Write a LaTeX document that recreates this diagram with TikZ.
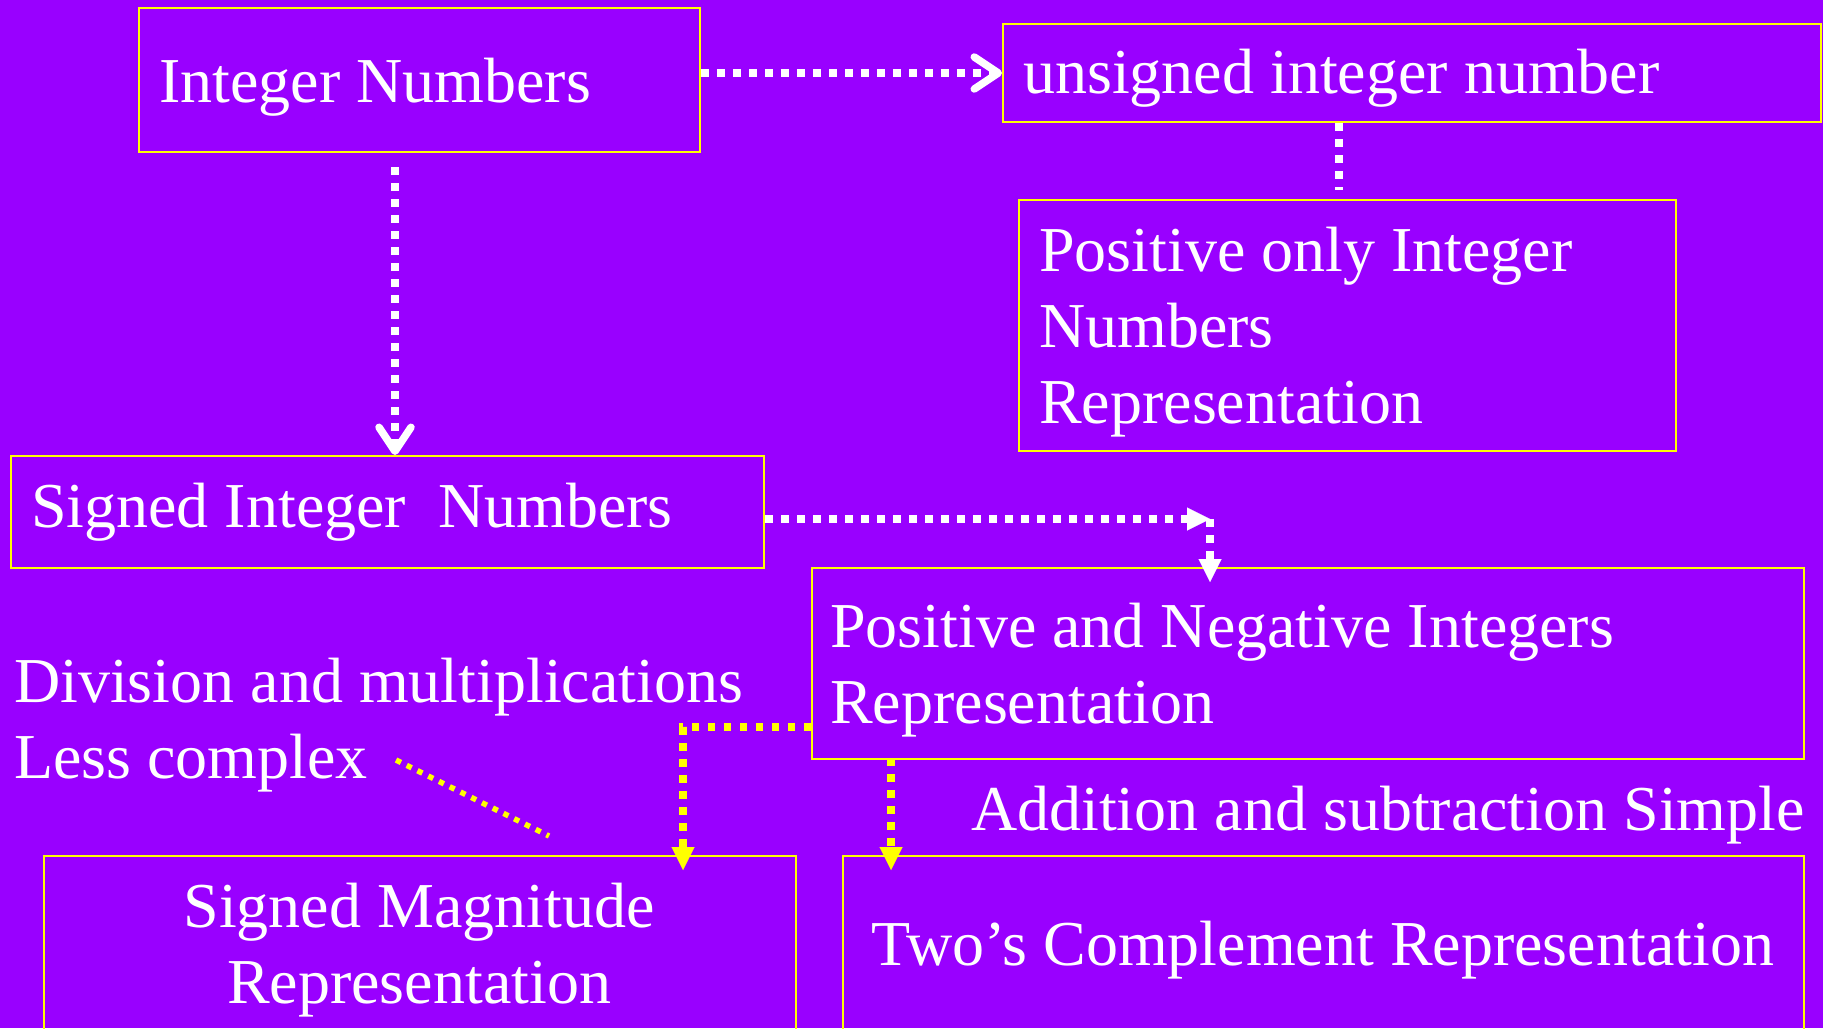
\documentclass[tikz,border=0pt]{standalone}
\usepackage{fontspec}
\setmainfont{Liberation Serif}
\usetikzlibrary{arrows.meta}
\definecolor{bgpurple}{RGB}{153,0,255}
\definecolor{boxyellow}{RGB}{255,255,0}
\begin{document}
\begin{tikzpicture}[x=1pt,y=-1pt,
  box/.style={draw=boxyellow, line width=2pt, rectangle, inner sep=0pt, anchor=north west},
  txt/.style={text=white, inner sep=0pt, font=\fontsize{64}{76}\selectfont, align=left, anchor=base west},
  ctxt/.style={text=white, inner sep=0pt, font=\fontsize{64}{76}\selectfont, align=center, anchor=base},
  whitedot/.style={draw=white, line width=7.5pt, dash pattern=on 7.5pt off 8.5pt},
  yellowdot/.style={draw=boxyellow, line width=7.5pt, dash pattern=on 7.5pt off 8.5pt},
  thindot/.style={draw=boxyellow, line width=5.5pt, dash pattern=on 5.5pt off 6.5pt},
  barbtip/.style={-{Straight Barb[length=24pt,width=32pt,round]}},
  tritip/.style={-{Triangle[length=23pt,width=23pt,line width=0.01pt]}}
]
\useasboundingbox (0,0) rectangle (1823,1028);
\fill[bgpurple] (0,0) rectangle (1823,1028);
\clip (0,0) rectangle (1823,1028);

% boxes
\node[box, minimum width=561pt, minimum height=144pt] (b1) at (138,7) {};
\node[box, minimum width=818pt, minimum height=98pt] (b2) at (1002,23) {};
\node[box, minimum width=657pt, minimum height=251pt] (b3) at (1018,199) {};
\node[box, minimum width=753pt, minimum height=112pt] (b4) at (10,455) {};
\node[box, minimum width=992pt, minimum height=191pt] (b5) at (811,567) {};
\node[box, minimum width=752pt, minimum height=178pt] (b6) at (43,855) {};
\node[box, minimum width=961pt, minimum height=178pt] (b7) at (842,855) {};

% texts (base anchor = last line of a multi-line node)
\node[txt] (t1) at (159,102) {Integer Numbers};
\node[txt] (t2) at (1023,93) {unsigned integer number};
\node[txt] (t3) at (1039,423) {Positive only Integer\\Numbers\\Representation};
\node[txt] (t4) at (31,527) {Signed Integer\ \ Numbers};
\node[txt] (t5) at (830,723) {Positive and Negative Integers\\Representation};
\node[ctxt] (t6) at (419,1003) {Signed Magnitude\\Representation};
\node[ctxt] (t7) at (1323,965) {Two’s Complement Representation};
\node[txt] (n1) at (14,778) {Division and multiplications\\Less complex};
\node[txt, anchor=base east] (n2) at (1805,830) {Addition and subtraction Simple};

% white connectors
\draw[whitedot, barbtip] (b1.east |- b2.west) -- (b2.west);
\coordinate (a2s) at (395,167);
\draw[whitedot, barbtip] (a2s) -- (a2s |- b4.north);
\draw[whitedot] (b2.south -| 1339,0) -- (1339,190);
\coordinate (a3c) at (1210,519);
\draw[whitedot, tritip] (b4.east |- a3c) -- (a3c);
\draw[whitedot, tritip] (a3c) -- ([yshift=-15pt]a3c |- b5.north);

% yellow connectors
\coordinate (y1c) at (683,727);
\draw[yellowdot, tritip] (b5.west |- y1c) -- (y1c) -- ([yshift=-15pt]y1c |- b6.north);
\coordinate (y2s) at (891,758);
\draw[yellowdot, tritip] (y2s) -- ([yshift=-15pt]y2s |- b7.north);
\coordinate (d1) at (396,760);
\coordinate (d2) at (549,836);
\draw[thindot] (d1) -- (d2);
\end{tikzpicture}
\end{document}
